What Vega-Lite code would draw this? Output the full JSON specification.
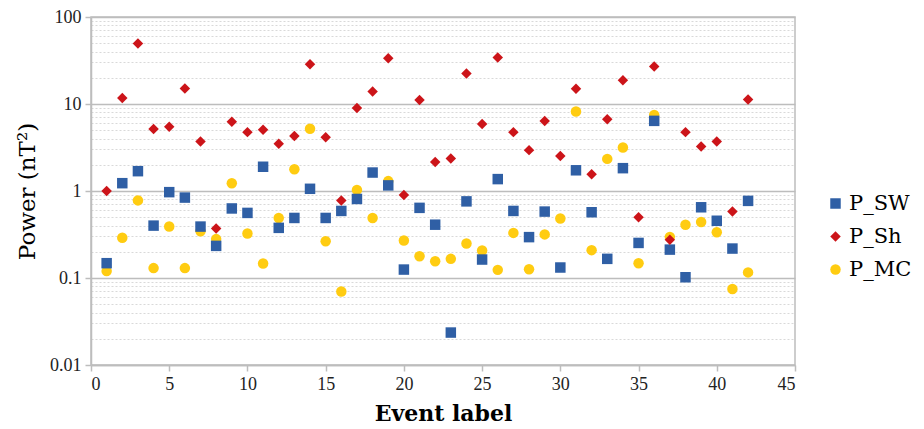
{
  "$schema": "https://vega.github.io/schema/vega-lite/v6.json",
  "width": 704,
  "height": 348,
  "autosize": "none",
  "padding": {"left": 91, "top": 17, "right": 129, "bottom": 64},
  "background": "white",
  "config": {
    "view": {"stroke": "#bdbdbd", "strokeWidth": 1.5},
    "font": "Liberation Serif"
  },
  "data": {"values": [
    {"event":1,"series":"P_MC","power":0.12},{"event":2,"series":"P_MC","power":0.29},{"event":3,"series":"P_MC","power":0.78},{"event":4,"series":"P_MC","power":0.13},{"event":5,"series":"P_MC","power":0.39},{"event":6,"series":"P_MC","power":0.13},{"event":7,"series":"P_MC","power":0.345},{"event":8,"series":"P_MC","power":0.28},{"event":9,"series":"P_MC","power":1.23},{"event":10,"series":"P_MC","power":0.325},{"event":11,"series":"P_MC","power":0.147},{"event":12,"series":"P_MC","power":0.49},{"event":13,"series":"P_MC","power":1.78},{"event":14,"series":"P_MC","power":5.2},{"event":15,"series":"P_MC","power":0.265},{"event":16,"series":"P_MC","power":0.07},{"event":17,"series":"P_MC","power":1.03},{"event":18,"series":"P_MC","power":0.49},{"event":19,"series":"P_MC","power":1.3},{"event":20,"series":"P_MC","power":0.27},{"event":21,"series":"P_MC","power":0.178},{"event":22,"series":"P_MC","power":0.156},{"event":23,"series":"P_MC","power":0.166},{"event":24,"series":"P_MC","power":0.249},{"event":25,"series":"P_MC","power":0.207},{"event":26,"series":"P_MC","power":0.124},{"event":27,"series":"P_MC","power":0.33},{"event":28,"series":"P_MC","power":0.126},{"event":29,"series":"P_MC","power":0.317},{"event":30,"series":"P_MC","power":0.484},{"event":31,"series":"P_MC","power":8.2},{"event":32,"series":"P_MC","power":0.209},{"event":33,"series":"P_MC","power":2.34},{"event":34,"series":"P_MC","power":3.16},{"event":35,"series":"P_MC","power":0.148},{"event":36,"series":"P_MC","power":7.5},{"event":37,"series":"P_MC","power":0.297},{"event":38,"series":"P_MC","power":0.41},{"event":39,"series":"P_MC","power":0.44},{"event":40,"series":"P_MC","power":0.336},{"event":41,"series":"P_MC","power":0.0747},{"event":42,"series":"P_MC","power":0.116},
    {"event":1,"series":"P_SW","power":0.148},{"event":2,"series":"P_SW","power":1.23},{"event":3,"series":"P_SW","power":1.69},{"event":4,"series":"P_SW","power":0.40},{"event":5,"series":"P_SW","power":0.97},{"event":6,"series":"P_SW","power":0.84},{"event":7,"series":"P_SW","power":0.39},{"event":8,"series":"P_SW","power":0.234},{"event":9,"series":"P_SW","power":0.63},{"event":10,"series":"P_SW","power":0.56},{"event":11,"series":"P_SW","power":1.9},{"event":12,"series":"P_SW","power":0.377},{"event":13,"series":"P_SW","power":0.49},{"event":14,"series":"P_SW","power":1.06},{"event":15,"series":"P_SW","power":0.49},{"event":16,"series":"P_SW","power":0.59},{"event":17,"series":"P_SW","power":0.81},{"event":18,"series":"P_SW","power":1.63},{"event":19,"series":"P_SW","power":1.16},{"event":20,"series":"P_SW","power":0.125},{"event":21,"series":"P_SW","power":0.64},{"event":22,"series":"P_SW","power":0.41},{"event":23,"series":"P_SW","power":0.0236},{"event":24,"series":"P_SW","power":0.76},{"event":25,"series":"P_SW","power":0.163},{"event":26,"series":"P_SW","power":1.37},{"event":27,"series":"P_SW","power":0.59},{"event":28,"series":"P_SW","power":0.295},{"event":29,"series":"P_SW","power":0.58},{"event":30,"series":"P_SW","power":0.132},{"event":31,"series":"P_SW","power":1.73},{"event":32,"series":"P_SW","power":0.57},{"event":33,"series":"P_SW","power":0.166},{"event":34,"series":"P_SW","power":1.83},{"event":35,"series":"P_SW","power":0.253},{"event":36,"series":"P_SW","power":6.4},{"event":37,"series":"P_SW","power":0.212},{"event":38,"series":"P_SW","power":0.102},{"event":39,"series":"P_SW","power":0.65},{"event":40,"series":"P_SW","power":0.455},{"event":41,"series":"P_SW","power":0.218},{"event":42,"series":"P_SW","power":0.77},
    {"event":1,"series":"P_Sh","power":1.0},{"event":2,"series":"P_Sh","power":11.7},{"event":3,"series":"P_Sh","power":49.6},{"event":4,"series":"P_Sh","power":5.15},{"event":5,"series":"P_Sh","power":5.47},{"event":6,"series":"P_Sh","power":15.1},{"event":7,"series":"P_Sh","power":3.7},{"event":8,"series":"P_Sh","power":0.37},{"event":9,"series":"P_Sh","power":6.25},{"event":10,"series":"P_Sh","power":4.75},{"event":11,"series":"P_Sh","power":5.05},{"event":12,"series":"P_Sh","power":3.5},{"event":13,"series":"P_Sh","power":4.3},{"event":14,"series":"P_Sh","power":28.6},{"event":15,"series":"P_Sh","power":4.16},{"event":16,"series":"P_Sh","power":0.78},{"event":17,"series":"P_Sh","power":9.0},{"event":18,"series":"P_Sh","power":13.9},{"event":19,"series":"P_Sh","power":33.6},{"event":20,"series":"P_Sh","power":0.9},{"event":21,"series":"P_Sh","power":11.1},{"event":22,"series":"P_Sh","power":2.16},{"event":23,"series":"P_Sh","power":2.36},{"event":24,"series":"P_Sh","power":22.4},{"event":25,"series":"P_Sh","power":5.88},{"event":26,"series":"P_Sh","power":34.2},{"event":27,"series":"P_Sh","power":4.75},{"event":28,"series":"P_Sh","power":2.95},{"event":29,"series":"P_Sh","power":6.37},{"event":30,"series":"P_Sh","power":2.53},{"event":31,"series":"P_Sh","power":15.0},{"event":32,"series":"P_Sh","power":1.56},{"event":33,"series":"P_Sh","power":6.7},{"event":34,"series":"P_Sh","power":18.7},{"event":35,"series":"P_Sh","power":0.50},{"event":36,"series":"P_Sh","power":26.9},{"event":37,"series":"P_Sh","power":0.275},{"event":38,"series":"P_Sh","power":4.75},{"event":39,"series":"P_Sh","power":3.24},{"event":40,"series":"P_Sh","power":3.7},{"event":41,"series":"P_Sh","power":0.58},{"event":42,"series":"P_Sh","power":11.3}
  ]},
  "mark": {"type": "point", "filled": true, "opacity": 1},
  "encoding": {
    "x": {
      "field": "event", "type": "quantitative",
      "scale": {"domain": [0, 45], "nice": false, "zero": false},
      "axis": {
        "values": [0,5,10,15,20,25,30,35,40,45],
        "grid": false,
        "title": "Event label",
        "titleFont": "DejaVu Serif", "titleFontSize": 22, "titleFontWeight": "bold", "titleColor": "#000", "titlePadding": 10,
        "labelFont": "Liberation Serif", "labelFontSize": 18, "labelColor": "#222", "labelPadding": 4,
        "domainColor": "#bdbdbd", "domainWidth": 1.5,
        "tickColor": "#bdbdbd", "tickSize": 6, "tickWidth": 1.5
      }
    },
    "y": {
      "field": "power", "type": "quantitative",
      "scale": {"type": "log", "domain": [0.01, 100], "nice": false},
      "axis": {
        "values": [0.01,0.02,0.03,0.04,0.05,0.06,0.07,0.08,0.09,0.1,0.2,0.3,0.4,0.5,0.6,0.7,0.8,0.9,1,2,3,4,5,6,7,8,9,10,20,30,40,50,60,70,80,90,100],
        "format": "~g",
        "labelExpr": "abs(log(datum.value)/LN10 - round(log(datum.value)/LN10)) < 1e-6 ? datum.label : ''",
        "grid": true,
        "gridColor": {"condition": {"test": "abs(log(datum.value)/LN10 - round(log(datum.value)/LN10)) < 1e-6", "value": "#bdbdbd"}, "value": "#d9d9d9"},
        "gridDash": {"condition": {"test": "abs(log(datum.value)/LN10 - round(log(datum.value)/LN10)) < 1e-6", "value": []}, "value": [2, 2]},
        "gridWidth": {"condition": {"test": "abs(log(datum.value)/LN10 - round(log(datum.value)/LN10)) < 1e-6", "value": 1.5}, "value": 1},
        "tickOpacity": {"condition": {"test": "abs(log(datum.value)/LN10 - round(log(datum.value)/LN10)) < 1e-6", "value": 1}, "value": 0},
        "tickColor": "#bdbdbd", "tickSize": 6, "tickWidth": 1.5,
        "domainColor": "#bdbdbd", "domainWidth": 1.5,
        "title": "Power (nT²)",
        "titleFont": "DejaVu Serif", "titleFontSize": 23, "titleFontWeight": "normal", "titleColor": "#000", "titlePadding": 10,
        "labelFont": "Liberation Serif", "labelFontSize": 18, "labelColor": "#222", "labelPadding": 4
      }
    },
    "color": {
      "field": "series", "type": "nominal",
      "scale": {"domain": ["P_SW", "P_Sh", "P_MC"], "range": ["#2f5fa5", "#cc1419", "#ffcc11"]},
      "legend": {
        "title": null, "orient": "none", "legendX": 734, "legendY": 176,
        "labelFont": "DejaVu Serif", "labelFontSize": 21, "labelColor": "#000",
        "symbolSize": 120, "rowPadding": 11, "labelOffset": 3
      }
    },
    "shape": {
      "field": "series", "type": "nominal",
      "scale": {"domain": ["P_SW", "P_Sh", "P_MC"], "range": ["square", "diamond", "circle"]}
    },
    "size": {
      "field": "series", "type": "nominal",
      "scale": {"domain": ["P_SW", "P_Sh", "P_MC"], "range": [110, 110, 120]},
      "legend": null
    }
  }
}
